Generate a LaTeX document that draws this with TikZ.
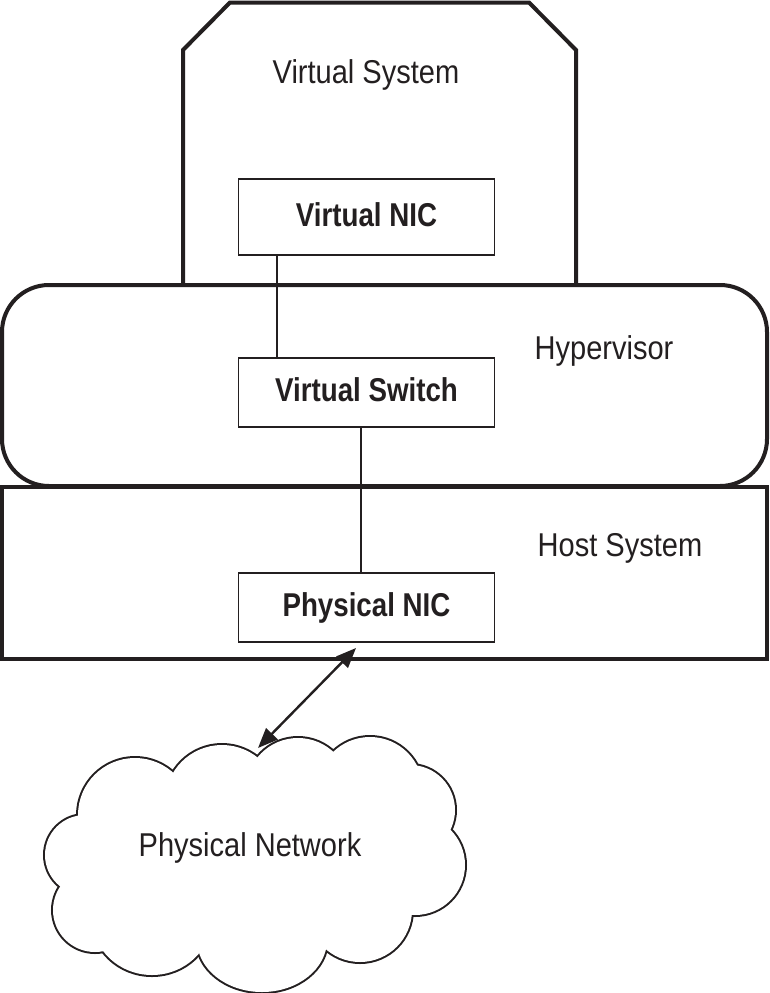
\documentclass[tikz,border=0pt]{standalone}
\usepackage{fontspec}
\setmainfont{Liberation Sans}[FakeStretch=0.88]
\newfontfamily\boldlbl{Liberation Sans}[FakeStretch=0.84]
\usetikzlibrary{arrows.meta}
\definecolor{ink}{HTML}{231F20}
\begin{document}
\begin{tikzpicture}[x=1pt,y=-1pt,
  heavy/.style={line width=4pt, draw=ink},
  nicbox/.style={draw=ink, line width=1.8pt, minimum width=256pt, text height=24pt, text depth=6pt, inner sep=0pt, font=\boldlbl\bfseries\fontsize{33}{40}\selectfont, text=ink},
  lbl/.style={anchor=base, inner sep=0pt, font=\fontsize{33}{40}\selectfont, text=ink},
  wire/.style={draw=ink, line width=1.8pt},
  link/.style={draw=ink, line width=2.4pt, {Triangle[length=20pt,width=16pt]}-{Triangle[length=20pt,width=16pt]}}]
\useasboundingbox (0,0) rectangle (769,993);
\fill[white] (0,0) rectangle (769,993);
% containers
\draw[heavy, rounded corners=47pt] (2,285) rectangle (767,486);
\draw[heavy] (183,285) -- (183,50) -- (230,2.5) -- (529,2.5) -- (576,50) -- (576,285);
\draw[heavy] (2,487) rectangle (767,659);
% boxes
\node[nicbox, minimum height=76pt] (vnic) at (366.5,217) {Virtual NIC};
\node[nicbox, minimum height=69pt] (vswitch) at (366.5,392.5) {Virtual Switch};
\node[nicbox, minimum height=69pt] (pnic) at (366.5,607.5) {Physical NIC};
\draw[wire] ([xshift=-89.5pt]vnic.south) -- ([xshift=-89.5pt]vswitch.north);
\draw[wire] ([xshift=-5.5pt]vswitch.south) -- ([xshift=-5.5pt]pnic.north);
% labels
\node[lbl] (vs) at (366,83) {Virtual System};
\node[lbl] (hv) at (604,359) {Hypervisor};
\node[lbl] (hs) at (620,556) {Host System};
% cloud
\foreach \cx/\cy/\rx/\ry in {135/815/57/57, 222/802/57/57, 298/790/52/52, 370/790/53/53, 410/810/45/45, 415/865/50/50, 360/910/52/52, 262/940/65/52, 152/918/60/57, 95/910/42/42, 85/855/40/40}
  \draw[ink, line width=4pt] (\cx,\cy) ellipse [x radius=\rx pt, y radius=\ry pt];
\foreach \cx/\cy/\rx/\ry in {135/815/57/57, 222/802/57/57, 298/790/52/52, 370/790/53/53, 410/810/45/45, 415/865/50/50, 360/910/52/52, 262/940/65/52, 152/918/60/57, 95/910/42/42, 85/855/40/40}
  \fill[white] (\cx,\cy) ellipse [x radius=\rx pt, y radius=\ry pt];
\fill[white] (260,855) ellipse [x radius=170pt, y radius=85pt];
\node[lbl] (pn) at (250,856) {Physical Network};
% link
\coordinate (arrtop) at (356,648);
\coordinate (arrbot) at (258,748);
\draw[link] (arrtop) -- (arrbot);
\end{tikzpicture}
\end{document}
